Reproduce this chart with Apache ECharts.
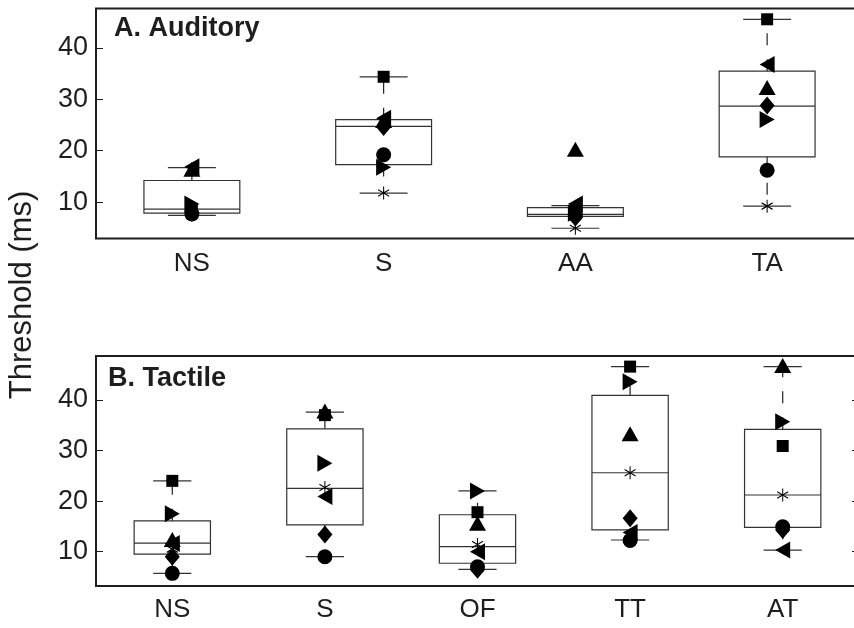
<!DOCTYPE html>
<html>
<head>
<meta charset="utf-8">
<script src="https://cdn.jsdelivr.net/npm/echarts@6/dist/echarts.min.js"></script>
<style>html,body{margin:0;padding:0;background:#fff}#c{width:854px;height:628px}</style>
</head>
<body>
<div id="c"></div>
<script>
// ---- Data ----
const catsA = ['NS', 'S', 'AA', 'TA'];
const catsB = ['NS', 'S', 'OF', 'TT', 'AT'];
const tickValues = [10, 20, 30, 40];

// box stats: [min(whisker), Q1, median, Q3, max(whisker)]
const boxA = [
  [7.4, 7.86, 8.64, 14.2, 16.7],
  [11.75, 17.3, 24.75, 26.05, 34.4],
  [4.9, 7.2, 7.6, 8.9, 9.3],
  [9.2, 18.8, 28.7, 35.5, 45.6]
];
const boxB = [
  [5.7, 9.5, 11.7, 16.1, 24.0],
  [9.0, 15.3, 22.5, 34.3, 37.6],
  [6.5, 7.7, 11.0, 17.3, 22.0],
  [12.3, 14.3, 25.6, 40.9, 46.6],
  [10.3, 14.8, 21.2, 34.2, 46.6]
];

// individual subjects (one marker per subject)
const squareA   = [8.6, 34.4, 8.3, 45.6];
const leftA     = [16.9, 26.3, 9.6, 36.8];
const upA       = [16.4, 25.9, 20.3, 32.3];
const diamondA  = [8.0, 24.6, 7.0, 28.8];
const circleA   = [7.7, 19.2, 7.5, 16.2];
const rightA    = [9.6, 16.8, 7.8, 26.1];
const asteriskA = [7.4, 11.75, 4.9, 9.2];

const squareB   = [24.0, 37.0, 17.8, 46.6, 30.9];
const leftB     = [11.6, 20.9, 10.0, 13.8, 10.3];
const upB       = [12.4, 37.8, 15.6, 33.3, 46.8];
const diamondB  = [9.0, 13.4, 6.4, 16.6, 14.3];
const circleB   = [5.7, 9.0, 7.0, 12.2, 14.9];
const rightB    = [17.5, 27.5, 22.0, 43.6, 35.7];
const asteriskB = [10.5, 22.7, 11.4, 25.6, 21.2];

// ---- Styling ----
const FONT = "'Liberation Sans', Arial, Helvetica, sans-serif";
const INK = '#1e1e1e';

const markerDefs = [
  { name: 'square',   symbol: 'rect', size: 12, A: squareA, B: squareB },
  { name: 'up',       symbol: 'triangle', size: [17, 15], A: upA, B: upB },
  { name: 'left',     symbol: 'path://M0,5L10,0L10,10Z', size: [15, 17], A: leftA, B: leftB },
  { name: 'right',    symbol: 'path://M10,5L0,0L0,10Z', size: [15, 17], A: rightA, B: rightB },
  { name: 'diamond',  symbol: 'diamond', size: [15, 18], A: diamondA, B: diamondB },
  { name: 'circle',   symbol: 'circle', size: 15, A: circleA, B: circleB },
  { name: 'asterisk', symbol: 'path://M5,0L5,12M0,3L10,9M0,9L10,3', size: [11, 13], A: asteriskA, B: asteriskB, stroke: true }
];

function renderBox(params, api) {
  const x = api.value(0);
  const pMin = api.coord([x, api.value(1)]);
  const pQ1 = api.coord([x, api.value(2)]);
  const pMed = api.coord([x, api.value(3)]);
  const pQ3 = api.coord([x, api.value(4)]);
  const pMax = api.coord([x, api.value(5)]);
  const w = api.size([1, 0])[0] * 0.5;
  const cx = pMin[0];
  const st = { stroke: '#333', lineWidth: 1.2, fill: null };
  const dash = { stroke: '#222', lineWidth: 1.2, lineDash: [12, 14], fill: null };
  return {
    type: 'group',
    children: [
      { type: 'line', shape: { x1: cx, y1: pQ3[1], x2: cx, y2: pMax[1] }, style: dash },
      { type: 'line', shape: { x1: cx, y1: pQ1[1], x2: cx, y2: pMin[1] }, style: dash },
      { type: 'line', shape: { x1: cx - w / 4, y1: pMax[1], x2: cx + w / 4, y2: pMax[1] }, style: st },
      { type: 'line', shape: { x1: cx - w / 4, y1: pMin[1], x2: cx + w / 4, y2: pMin[1] }, style: st },
      { type: 'rect', shape: { x: cx - w / 2, y: pQ3[1], width: w, height: pQ1[1] - pQ3[1] }, style: st },
      { type: 'line', shape: { x1: cx - w / 2, y1: pMed[1], x2: cx + w / 2, y2: pMed[1] }, style: st }
    ]
  };
}

function yAxisLeft(gi, min, max) {
  return {
    type: 'value', gridIndex: gi, min: min, max: max, position: 'left',
    axisLine: { show: false },
    splitLine: { show: false },
    axisTick: { show: true, inside: true, length: 7, customValues: tickValues, lineStyle: { color: INK, width: 1 } },
    axisLabel: { show: true, customValues: tickValues, fontSize: 27, color: INK, fontFamily: FONT, margin: 8 }
  };
}
function yAxisRight(gi, min, max) {
  return {
    type: 'value', gridIndex: gi, min: min, max: max, position: 'right',
    axisLine: { show: false },
    splitLine: { show: false },
    axisTick: { show: true, inside: true, length: 7, customValues: tickValues, lineStyle: { color: INK, width: 1 } },
    axisLabel: { show: false }
  };
}
function xAxis(gi, cats, margin) {
  return {
    type: 'category', gridIndex: gi, data: cats, boundaryGap: true,
    axisLine: { show: false }, axisTick: { show: false }, splitLine: { show: false },
    axisLabel: { fontSize: 26, color: INK, fontFamily: FONT, margin: margin }
  };
}

const series = [];
[['A', boxA, 0], ['B', boxB, 1]].forEach(([key, box, gi]) => {
  series.push({
    type: 'custom', xAxisIndex: gi, yAxisIndex: gi, renderItem: renderBox,
    encode: { x: 0, y: [1, 2, 3, 4, 5] }, silent: true, z: 2, clip: false,
    data: box.map((b, i) => [i].concat(b))
  });
  markerDefs.forEach(m => {
    series.push({
      type: 'scatter', xAxisIndex: gi, yAxisIndex: gi, z: 3,
      symbol: m.symbol, symbolSize: m.size, silent: true,
      itemStyle: m.stroke ? { color: 'rgba(0,0,0,0)', borderColor: '#000', borderWidth: 1.1, opacity: 1 } : { color: '#000', opacity: 1 },
      emphasis: { disabled: true },
      data: m[key].map((v, i) => [i, v])
    });
  });
});

const chart = echarts.init(document.getElementById('c'), null, { renderer: 'canvas' });
chart.setOption({
  animation: false,
  backgroundColor: '#fff',
  grid: [
    { left: 96, top: 8.5, width: 767, height: 230, show: true, borderColor: INK, borderWidth: 2, backgroundColor: 'transparent', outerBoundsMode: 'none', containLabel: false },
    { left: 96, top: 356, width: 763, height: 230, show: true, borderColor: INK, borderWidth: 2, backgroundColor: 'transparent', outerBoundsMode: 'none', containLabel: false }
  ],
  xAxis: [xAxis(0, catsA, 12), xAxis(1, catsB, 11)],
  yAxis: [yAxisLeft(0, 2.9, 47.7), yAxisLeft(1, 3.2, 48.7), yAxisRight(0, 2.9, 47.7), yAxisRight(1, 3.2, 48.7)],
  graphic: [
    { type: 'text', left: 114, top: 15, style: { text: 'A. Auditory', font: "bold 27px " + FONT, fill: INK } },
    { type: 'text', left: 108, top: 365, style: { text: 'B. Tactile', font: "bold 27px " + FONT, fill: INK } },
    { type: 'text', x: 22, y: 295, rotation: Math.PI / 2,
      style: { text: 'Threshold (ms)', font: "31px " + FONT, fill: INK, align: 'center', verticalAlign: 'middle' } }
  ],
  series: series
});
</script>
</body>
</html>
